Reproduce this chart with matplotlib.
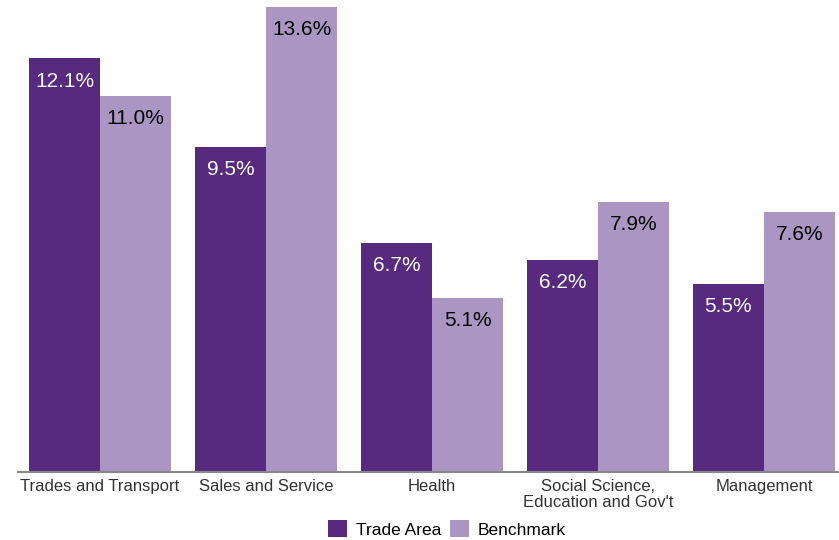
import numpy as np
import matplotlib.pyplot as plt

plt.rcParams['font.family'] = ['Liberation Sans', 'DejaVu Sans']

categories = ["Trades and Transport", "Sales and Service", "Health",
              "Social Science,\nEducation and Gov't", "Management"]
trade_area = [12.1, 9.5, 6.7, 6.2, 5.5]
benchmark = [11.0, 13.6, 5.1, 7.9, 7.6]

dark = "#572a80"
light = "#aa95c3"

fig = plt.figure(figsize=(8.39, 5.40), dpi=100)
ax = fig.add_axes([18 / 839, 1 - 472 / 540, 1 - 18 / 839, 472 / 540])

x = np.arange(len(categories))
w = 0.428
b1 = ax.bar(x - w / 2, trade_area, w, color=dark, label="Trade Area")
b2 = ax.bar(x + w / 2, benchmark, w, color=light, label="Benchmark")

# value labels just inside the top of each bar
for bars, vals, col in [(b1, trade_area, "white"), (b2, benchmark, "black")]:
    for rect, v in zip(bars, vals):
        ax.annotate(f"{v:.1f}%", (rect.get_x() + rect.get_width() / 2, v),
                    xytext=(0, -16.5), textcoords="offset points",
                    ha="center", va="center", fontsize=15, color=col)

ax.set_xlim(-0.494, 4.452)
ax.set_ylim(0, 13.8)
ax.set_yticks([])
ax.set_xticks(x)
ax.set_xticklabels(categories, fontsize=12, color="#333333", linespacing=1.1)
ax.tick_params(axis="x", length=0, pad=5)
for s in ["top", "right", "left"]:
    ax.spines[s].set_visible(False)
ax.spines["bottom"].set_color("#888888")
ax.spines["bottom"].set_linewidth(1.5)

fig.legend(handles=[b1, b2], loc="center", bbox_to_anchor=(447 / 839, 1 - 529 / 540),
           ncol=2, frameon=False, fontsize=12.5, handlelength=1.1, handleheight=1.1,
           handletextpad=0.5, columnspacing=0.5, borderpad=0)

fig.savefig("out.png", dpi=100)
